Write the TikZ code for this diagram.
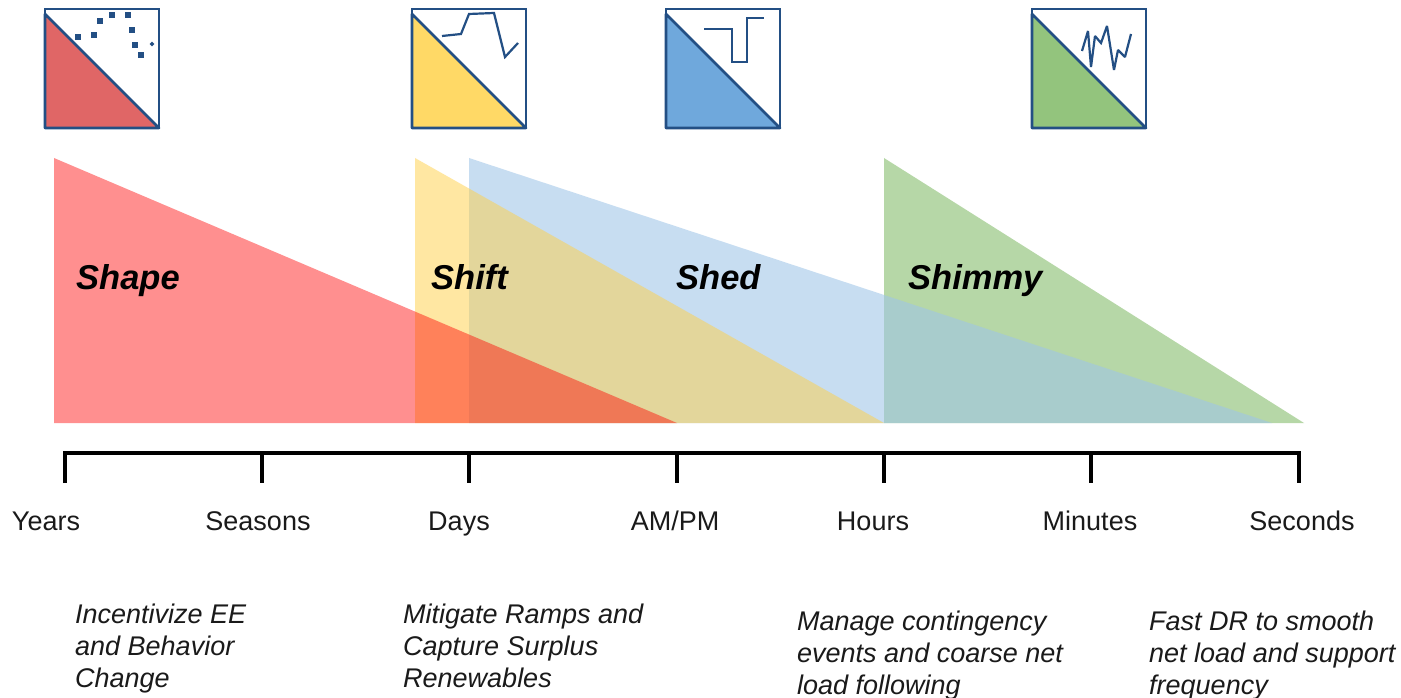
\documentclass[tikz,border=0pt]{standalone}
\usepackage{fontspec}
\setmainfont{Liberation Sans}
\definecolor{iconline}{HTML}{234F84}
\definecolor{txt}{HTML}{1A1A1A}
\definecolor{bandgreen}{RGB}{147,196,125}
\definecolor{bandblue}{RGB}{159,197,232}
\definecolor{bandyellow}{RGB}{255,208,70}
\definecolor{bandred}{RGB}{255,0,0}
\definecolor{iconred}{HTML}{E06666}
\definecolor{iconyellow}{HTML}{FFD966}
\definecolor{iconblue}{HTML}{6FA8DC}
\definecolor{icongreen}{HTML}{93C47D}
\tikzset{
  x=1pt,y=-1pt,
  iconbox/.style={draw=iconline,line width=2.6pt,fill=white},
  icontri/.style={draw=iconline,line width=2.6pt,line join=round},
  glyph/.style={draw=iconline,line width=2.2pt,line join=miter},
  dotmark/.style={fill=iconline,draw=none,minimum size=5.5pt,inner sep=0pt,rectangle},
  axisline/.style={draw=black,line width=3.6pt},
  ticklabel/.style={font=\fontsize{27}{30}\selectfont,text=txt,anchor=base,inner sep=0pt},
  titletext/.style={font=\fontsize{34.5}{38}\selectfont\bfseries\itshape,text=black,anchor=base west,inner sep=0pt},
  note/.style={font=\fontsize{27}{32}\selectfont\itshape,text=txt,anchor=base west,inner sep=0pt,align=left},
}
\newcommand{\iconat}[2]{%
  \draw[iconbox] (#1,9) rectangle (#1+114,128);
  \filldraw[icontri,fill=#2] (#1,14) -- (#1+114,128) -- (#1,128) -- cycle;
}
\begin{document}
\begin{tikzpicture}
\useasboundingbox (0,0) rectangle (1401,698);
\fill[white] (0,0) rectangle (1401,698);
% bands
\fill[bandgreen,fill opacity=.67] (884,158) -- (1304,423) -- (884,423) -- cycle;
\fill[bandblue,fill opacity=.575] (469,158) -- (1272,423) -- (469,423) -- cycle;
\fill[bandyellow,fill opacity=.5] (415,158) -- (884,423) -- (415,423) -- cycle;
\fill[bandred,fill opacity=.44] (54,158) -- (677,423) -- (54,423) -- cycle;
% icons
\iconat{45}{iconred}
\iconat{412}{iconyellow}
\iconat{666}{iconblue}
\iconat{1032}{icongreen}
\foreach \i/\p in {a/{78,37},b/{94,35},c/{100,21},d/{112,15},e/{128,15},f/{132,30},g/{135,45},h/{141,55}}
  \node[dotmark] (dot\i) at (\p) {};
\node[dotmark,minimum size=3.5pt,rotate=45] (doti) at (152,44) {};
\draw[glyph] (442,36) -- (461,34) -- (469,14) -- (494,13) -- (505,57) -- (518,43);
\draw[glyph] (704,29) -- (732,29) -- (732,62) -- (747,62) -- (747,18) -- (764,18);
\draw[glyph,miter limit=2] (1082,51) -- (1088,31) -- (1091,67) -- (1095,36) -- (1101,43) -- (1107,26) -- (1114,70) -- (1118,50) -- (1125,57) -- (1131,34);
% axis
\coordinate (t1) at (65,453);
\coordinate (t7) at (1299,453);
\draw[axisline] (65,483) -- (t1) -- (t7) -- (1299,483);
\foreach \x in {262,469,677,884,1091}
  \draw[axisline] (\x,453) -- (\x,483);
% tick labels
\node[ticklabel] (years) at (46,530) {Years};
\node[ticklabel] (seasons) at (258,530) {Seasons};
\node[ticklabel] (days) at (459,530) {Days};
\node[ticklabel] (ampm) at (675,530) {AM/PM};
\node[ticklabel] (hours) at (873,530) {Hours};
\node[ticklabel] (minutes) at (1090,530) {Minutes};
\node[ticklabel] (seconds) at (1302,530) {Seconds};
% titles
\node[titletext] (shape) at (76,289) {Shape};
\node[titletext] (shift) at (431,289) {Shift};
\node[titletext] (shed) at (676,289) {Shed};
\node[titletext] (shimmy) at (908,289) {Shimmy};
% notes
\node[note] (n1) at (75,687) {Incentivize EE\\and Behavior\\Change};
\node[note] (n2) at (403,687) {Mitigate Ramps and\\Capture Surplus\\Renewables};
\node[note] (n3) at (797,694) {Manage contingency\\events and coarse net\\load following};
\node[note] (n4) at (1149,694) {Fast DR to smooth\\net load and support\\frequency};
\end{tikzpicture}
\end{document}
